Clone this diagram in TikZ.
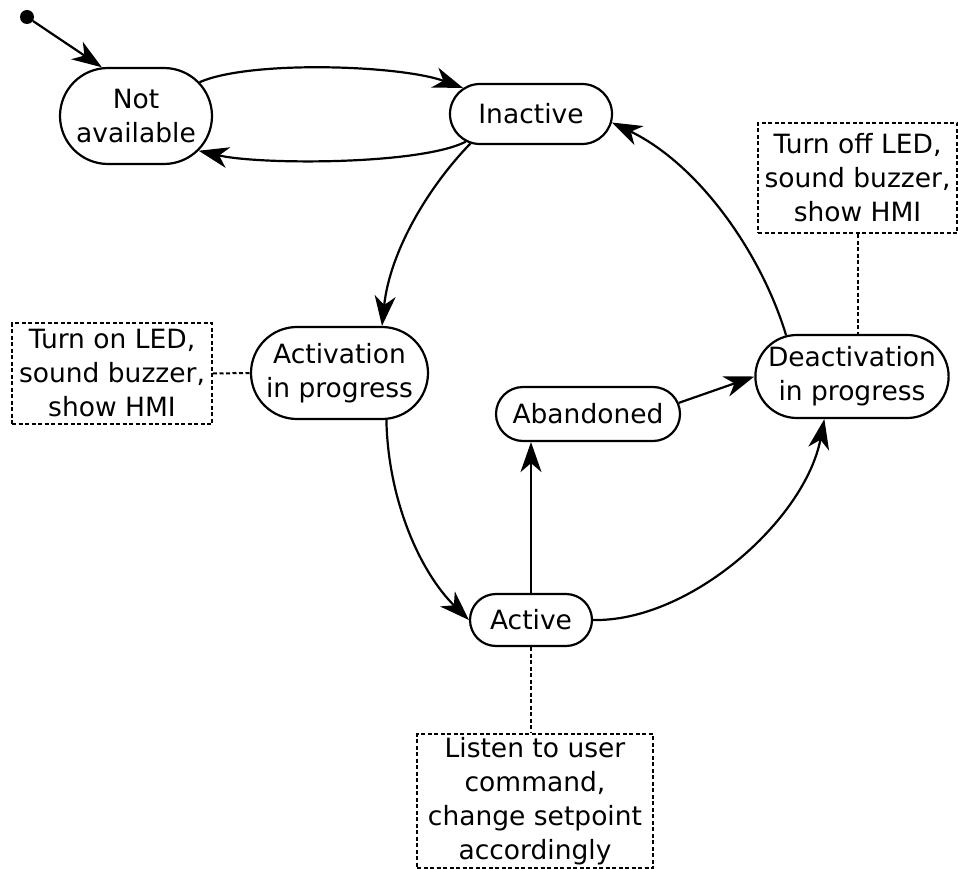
\documentclass[tikz,border=0pt]{standalone}
\usepackage{fontspec}
\setmainfont{DejaVu Sans}
\usetikzlibrary{shapes.misc,arrows.meta}
\begin{document}
\begin{tikzpicture}[x=1pt,y=-1pt,
  state/.style={rounded rectangle, draw, line width=2.2pt, inner sep=0pt, align=center,
    font=\fontsize{26.5}{34}\selectfont},
  note/.style={rectangle, draw, line width=2pt, dash pattern=on 4pt off 2.5pt, inner sep=0pt,
    align=center, font=\fontsize{26.5}{34}\selectfont},
  notelink/.style={line width=2pt, dash pattern=on 4pt off 2.5pt},
  trans/.style={line width=2.2pt, -{Stealth[length=30pt,width=21pt,inset=9pt]}}]
\useasboundingbox (0,0) rectangle (958,869);

\node[circle, fill=black, inner sep=0pt, minimum size=14pt] (init) at (27,17) {};
\node[state, minimum width=152pt, minimum height=96pt] (na) at (136,116) {Not\\available};
\node[state, minimum width=162pt, minimum height=60pt] (ina) at (531,114) {Inactive};
\node[state, minimum width=177pt, minimum height=92pt] (actp) at (339.5,373) {Activation\\in progress};
\node[state, minimum width=184pt, minimum height=54pt] (ab) at (588,414) {Abandoned};
\node[state, minimum width=192pt, minimum height=83pt] (deac) at (852,376.5) {Deactivation\\in progress};
\node[state, minimum width=122pt, minimum height=52pt] (act) at (531,620) {Active};

\node[note, minimum width=200pt, minimum height=101pt] (ton) at (112,373.5) {Turn on LED,\\sound buzzer,\\show HMI};
\node[note, minimum width=199pt, minimum height=110pt] (toff) at (857.5,178) {Turn off LED,\\sound buzzer,\\show HMI};
\node[note, minimum width=236pt, minimum height=134pt] (lis) at (535,801) {Listen to user\\command,\\change setpoint\\accordingly};

\draw[trans] (init) -- (na.125);
\draw[trans] (na.28) .. controls (250,60) and (400,65) .. (ina.159);
\draw[trans] (ina.203) .. controls (420,165) and (260,165) .. (na.-29);
\draw[trans] (ina.206) .. controls (430,185) and (390,250) .. (actp.north east);
\draw[trans] (deac.148) .. controls (762,255) and (700,165) .. (ina.-6);
\draw[trans] (actp.-45) .. controls (388,500) and (420,572) .. (act.west);
\draw[trans] (act.north) -- (act.north |- ab.south);
\draw[trans] (act.east) .. controls (690,622) and (805,520) .. (deac.-123);
\draw[trans] (ab.7) -- (deac.west);

\draw[notelink] (ton.east) -- (actp.west);
\draw[notelink] (toff.south) -- (toff.south |- deac.north);
\draw[notelink] (act.south) -- (act.south |- lis.north);
\end{tikzpicture}
\end{document}
